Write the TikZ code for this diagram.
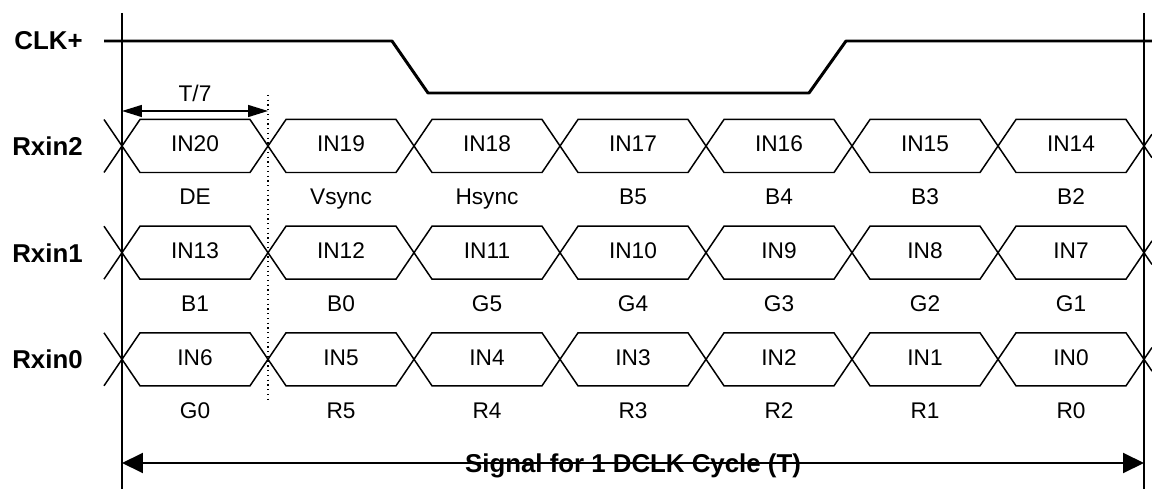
\documentclass[tikz,border=0pt]{standalone}
\usepackage{fontspec}
\setmainfont{Liberation Sans}
\usetikzlibrary{arrows.meta}

\begin{document}
\begin{tikzpicture}[x=0.02cm,y=-0.02cm,>={Triangle[length=0.42cm,width=0.4cm]}]
  \tikzstyle{sig}=[line width=0.85pt]
  \tikzstyle{clk}=[line width=1.7pt,line join=round]
  \tikzstyle{signame}=[font=\fontsize{14.7}{17}\selectfont\bfseries,anchor=east,inner sep=0pt]
  \tikzstyle{bitlbl}=[font=\fontsize{12.9}{15}\selectfont,anchor=base,inner sep=0pt]
  \def\xl{122}	% start of the DCLK cycle
  \def\xr{1144}	% end of the DCLK cycle
  \def\tw{146}	% width of one bit slot (T/7)
  \def\ex{18}	% half width of a crossing
  \def\hy{26.5}	% half height of an eye
  \useasboundingbox (0,0) rectangle (1152,489);
  % clock
  \node[signame] (clk) at (83,41) {CLK+};
  \draw[clk] (104,41) -- (392,41) -- (428,93) -- (809,93) -- (846,41) -- (1152,41);
  % cycle borders
  \coordinate (ltop) at (\xl,13);
  \coordinate (rtop) at (\xr,13);
  \draw[sig] (ltop) -- (\xl,489);
  \draw[sig] (rtop) -- (\xr,489);
  \draw[dotted,line width=0.7pt] (\xl+\tw,95) -- (\xl+\tw,402);
  % data lines
  \foreach \y/\r/\lst in {146/2/{DE,Vsync,Hsync,B5,B4,B3,B2},
                          252.7/1/{B1,B0,G5,G4,G3,G2,G1},
                          359.3/0/{G0,R5,R4,R3,R2,R1,R0}} {
    \node[signame] (rx\r) at (83,\y) {Rxin\r};
    \draw[sig] (\xl-\ex,\y-\hy) -- (\xl,\y) -- (\xl-\ex,\y+\hy);
    \draw[sig] (1152,\y-11.8) -- (\xr,\y) -- (1152,\y+11.8);
    \foreach \lab [count=\k from 0] in \lst {
      \pgfmathsetmacro\xa{\xl+\k*\tw}
      \pgfmathtruncatemacro\n{7*\r+6-\k}
      \draw[sig] (\xa,\y) -- ++(\ex,-\hy) -- ++(\tw-2*\ex,0) -- ++(\ex,\hy)
        -- ++(-\ex,\hy) -- ++(2*\ex-\tw,0) -- cycle;
      \node[bitlbl] (in\n) at (\xa+\tw/2,\y+6) {IN\n};
      \node[bitlbl] (b\n) at (\xa+\tw/2,\y+59) {\lab};
    }
  }
  % bit time
  \coordinate (ta) at (\xl,111);
  \coordinate (tb) at (\xl+\tw,111);
  \draw[<->,line width=0.85pt,>={Triangle[length=0.4cm,width=0.24cm]}] (ta) -- (tb);
  \node[bitlbl] (tbit) at (\xl+\tw/2,102) {T/7};
  % cycle time
  \coordinate (ca) at (\xl,463);
  \coordinate (cb) at (\xr,463);
  \draw[<->,line width=1.1pt] (ca) -- (cb);
  \node[font=\fontsize{14.7}{17}\selectfont\bfseries,anchor=base,inner sep=0pt] (cyc) at (633,472) {Signal for 1 DCLK Cycle (T)};
\end{tikzpicture}
\end{document}
